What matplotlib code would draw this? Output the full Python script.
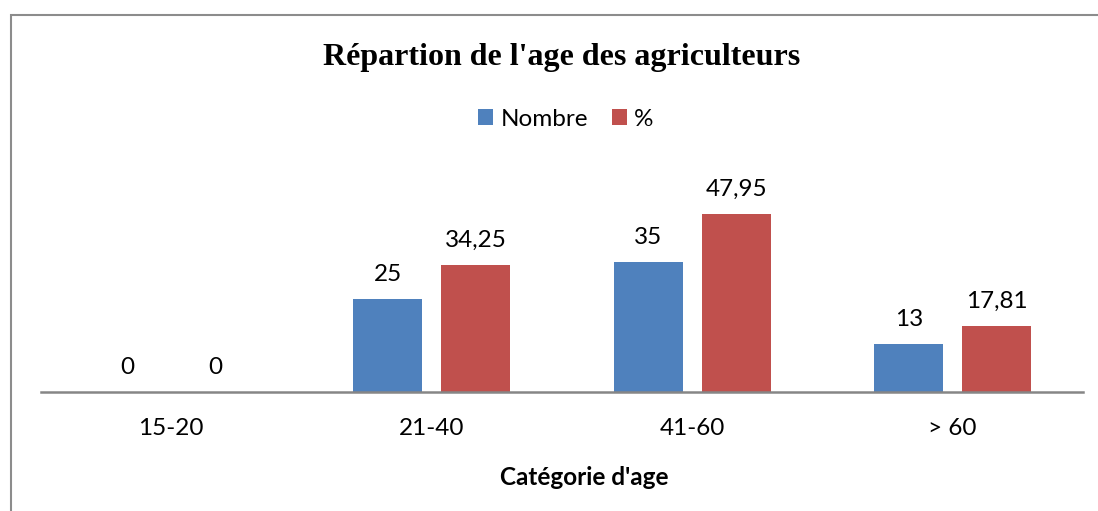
import numpy as np
import matplotlib
matplotlib.use('Agg')
import matplotlib.pyplot as plt
from matplotlib.patches import Rectangle

categories = ['15-20', '21-40', '41-60', '> 60']
nombre = [0, 25, 35, 13]
pourcent = [0, 34.25, 47.95, 17.81]
series_names = ['Nombre', '%']

W, H = 1098, 511
fig = plt.figure(figsize=(W / 100, H / 100), dpi=100)
fig.patch.set_facecolor('white')

# chart frame (only top and left edges visible in the crop)
fig.add_artist(Rectangle((11 / W, -0.1), 1.2, (H - 15) / H + 0.1,
                         transform=fig.transFigure, fill=False,
                         edgecolor='#8c8c8c', lw=1.5))

ax = fig.add_axes([41 / W, (H - 392) / H, (1083 - 41) / W, (392 - 169) / H])
x = np.arange(len(categories))
bw = 0.265
off = 0.169
colors = ['#4F81BD', '#C0504D']

b1 = ax.bar(x - off, nombre, bw, color=colors[0], label=series_names[0])
b2 = ax.bar(x + off, pourcent, bw, color=colors[1], label=series_names[1])

lab_font = 'Lato'
fs = 17.5
for bars, vals in ((b1, nombre), (b2, pourcent)):
    for rect, v in zip(bars, vals):
        txt = f'{v:g}'.replace('.', ',')
        ax.annotate(txt, (rect.get_x() + rect.get_width() / 2, rect.get_height()),
                    xytext=(0, 17.5), textcoords='offset points',
                    ha='center', va='center', fontsize=fs, family=lab_font)

ax.set_xlim(-0.5, len(categories) - 0.5)
ax.set_ylim(0, 60)
ax.set_yticks([])
for s in ('top', 'right', 'left'):
    ax.spines[s].set_visible(False)
ax.spines['bottom'].set_color('#868686')
ax.spines['bottom'].set_linewidth(1.8)
ax.set_xticks(x)
ax.set_xticklabels(categories, fontsize=fs, family=lab_font)
ax.tick_params(axis='x', length=0, pad=19)

ax.set_xlabel("Catégorie d'age", fontsize=fs, fontweight='bold', family=lab_font)
ax.xaxis.set_label_coords((584 - 41) / (1083 - 41), -(477 - 392) / (392 - 169))
ax.xaxis.label.set_va('center')

fig.text(562 / W, 1 - 57 / H, "Répartion de l'age des agriculteurs",
         ha='center', va='center', fontsize=23, fontweight='bold',
         family='Liberation Serif')

fig.legend(loc='center', bbox_to_anchor=(566 / W, 1 - 119 / H), ncol=2,
           frameon=False, prop={'family': lab_font, 'size': fs},
           handlelength=0.6, handleheight=0.6, handletextpad=0.3,
           columnspacing=1.0)

fig.savefig('out.png', dpi=100)
